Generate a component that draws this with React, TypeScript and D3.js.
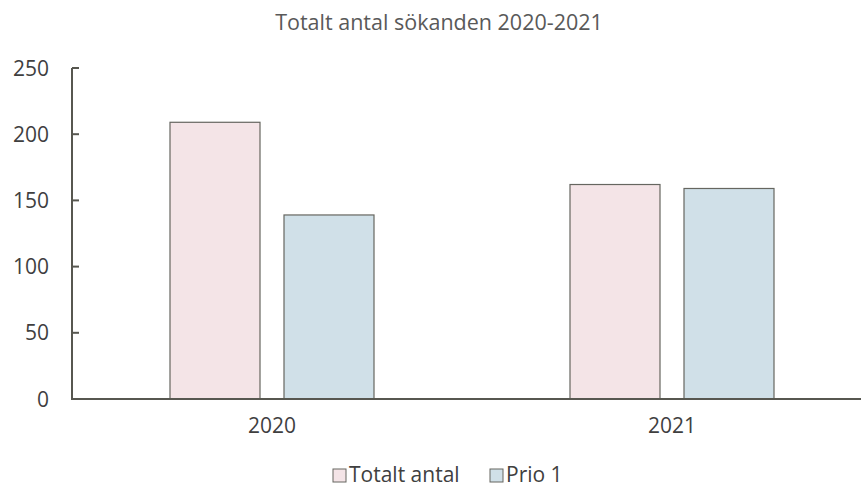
import React from "react";
import * as d3 from "d3";

const categories = ["2020", "2021"];
const seriesNames = ["Totalt antal", "Prio 1"];
const totaltAntal = [209, 162];
const prio1 = [139, 159];
const yTicks = [0, 50, 100, 150, 200, 250];
const seriesColors = ["#F4E4E7", "#D0E0E8"];

const W = 861;
const H = 488;
const FONT = "'Open Sans', 'Noto Sans', sans-serif";

export default function App() {
  const values = [totaltAntal, prio1];
  const y = d3.scaleLinear().domain([0, 250]).range([399, 68]);
  const x0 = d3.scaleBand().domain(categories).range([72, 872]).padding(0);
  const x1 = d3
    .scaleBand()
    .domain(seriesNames)
    .range([98, 302])
    .paddingInner(24 / 114)
    .paddingOuter(0);

  const legendX = [333, 490];

  return (
    <svg width={W} height={H} style={{ position: "absolute", left: 0, top: 0 }}>
      <rect width={W} height={H} fill="#fff" />
      <text x={439} y={30} textAnchor="middle" fontFamily={FONT} fontSize={21.5} fill="#595959">
        Totalt antal sökanden 2020-2021
      </text>
      {categories.map((c, ci) =>
        seriesNames.map((s, si) => {
          const v = values[si][ci];
          const bx = (x0(c) as number) + (x1(s) as number);
          return (
            <rect
              key={c + s}
              x={bx}
              y={y(v)}
              width={x1.bandwidth()}
              height={y(0) - y(v)}
              fill={seriesColors[si]}
              stroke="#666660"
              strokeWidth={1.2}
            />
          );
        })
      )}
      {/* y axis */}
      <line x1={72} x2={72} y1={y(250)} y2={y(0)} stroke="#575750" strokeWidth={2} />
      {yTicks.map((t) => (
        <g key={t}>
          <line x1={72} x2={79} y1={y(t)} y2={y(t)} stroke="#575750" strokeWidth={2} />
          <text
            x={49}
            y={y(t) + 7.5}
            textAnchor="end"
            fontFamily={FONT}
            fontSize={21}
            fontWeight={500}
            fill="#3f3f3f"
          >
            {t}
          </text>
        </g>
      ))}
      {/* x axis */}
      <line x1={71} x2={W} y1={y(0)} y2={y(0)} stroke="#575750" strokeWidth={2} />
      {categories.map((c) => (
        <text
          key={c}
          x={(x0(c) as number) + x0.bandwidth() / 2}
          y={433}
          textAnchor="middle"
          fontFamily={FONT}
          fontSize={21}
          fontWeight={500}
          fill="#3f3f3f"
        >
          {c}
        </text>
      ))}
      {/* legend */}
      {seriesNames.map((s, i) => {
        const lx = legendX[i];
        return (
          <g key={s}>
            <rect
              x={lx}
              y={469}
              width={13}
              height={13}
              fill={seriesColors[i]}
              stroke="#666660"
              strokeWidth={1}
            />
            <text x={lx + 16} y={482} fontFamily={FONT} fontSize={21} fill="#404040">
              {s}
            </text>
          </g>
        );
      })}
    </svg>
  );
}
